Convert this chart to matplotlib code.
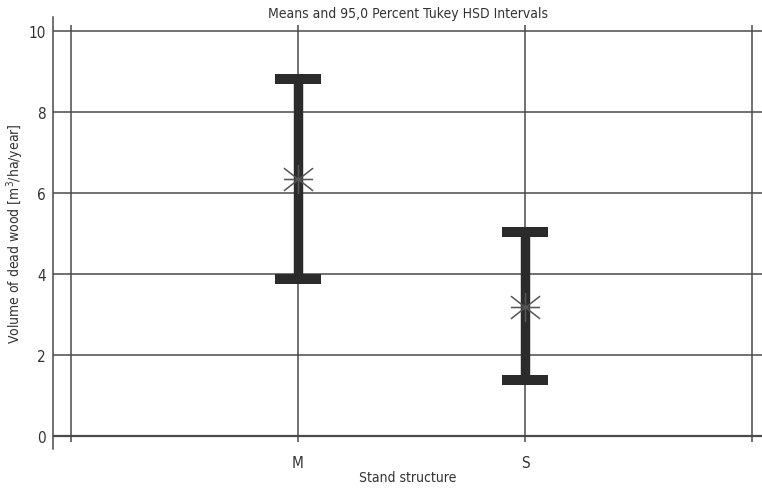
import matplotlib
matplotlib.use("Agg")
import matplotlib.pyplot as plt
from matplotlib.path import Path

plt.rcParams['font.family'] = ['DejaVu Sans']
plt.rcParams['font.stretch'] = 'condensed'

# Tukey HSD means and 95% interval bounds per stand structure
groups = ["M", "S"]
means = [6.35, 3.19]
lower = [3.88, 1.38]
upper = [8.81, 5.04]
yticks = [0, 2, 4, 6, 8, 10]

ink = "#2b2b2b"
grid_col = "#4a4a4a"
text_col = "#333333"

fig = plt.figure(figsize=(7.62, 4.89), dpi=100)
ax = fig.add_axes([53 / 762, 39 / 489, 709 / 762, 432 / 489])
ax.set_xlim(-0.079, 3.044)
ax.set_ylim(-0.32, 10.35)

# grid: horizontal lines at ticks, vertical lines at group slots
for y in yticks:
    ax.axhline(y, color=grid_col, lw=1.6 if y == 0 else 1.1, zorder=1)
ax.vlines(range(len(groups) + 2), -0.15, 10.15, color=grid_col, lw=1.1, zorder=1)

# asterisk marker: horizontal, vertical and two diagonals
star = Path([(-1, 0), (1, 0), (0, -1), (0, 1),
             (-1, -0.78), (1, 0.78), (-1, 0.78), (1, -0.78)],
            [Path.MOVETO, Path.LINETO] * 4)

xs = range(1, len(groups) + 1)
ax.vlines(xs, lower, upper, color=ink, lw=6.8, zorder=3)
for x, lo, hi in zip(xs, lower, upper):
    ax.hlines([lo, hi], x - 0.1, x + 0.1, color=ink, lw=7.2, zorder=3)
ax.plot(xs, means, linestyle="none", marker=star, markersize=21,
        markeredgecolor="#555555", markeredgewidth=1.1, zorder=4)

for side in ["top", "right", "bottom"]:
    ax.spines[side].set_visible(False)
ax.spines["left"].set_color(grid_col)
ax.spines["left"].set_linewidth(1.1)

ax.set_xticks(list(xs))
ax.set_xticklabels(groups)
ax.set_yticks(yticks)
ax.tick_params(length=0, labelsize=11, labelcolor=text_col)
ax.tick_params(axis="x", pad=4)
ax.tick_params(axis="y", pad=5)

ax.set_xlabel("Stand structure", fontsize=10, color=text_col)
ax.xaxis.set_label_coords(0.5, -0.048)
ax.set_ylabel("Volume of dead wood [m$^3$/ha/year]", fontsize=10, color=text_col,
              va="center")
ax.yaxis.set_label_coords(-0.053, 0.5)
ax.set_title("Means and 95,0 Percent Tukey HSD Intervals", fontsize=10, color=text_col,
             y=1 + 4 / 432, pad=0, va="center")

fig.savefig("out.png", dpi=100)
